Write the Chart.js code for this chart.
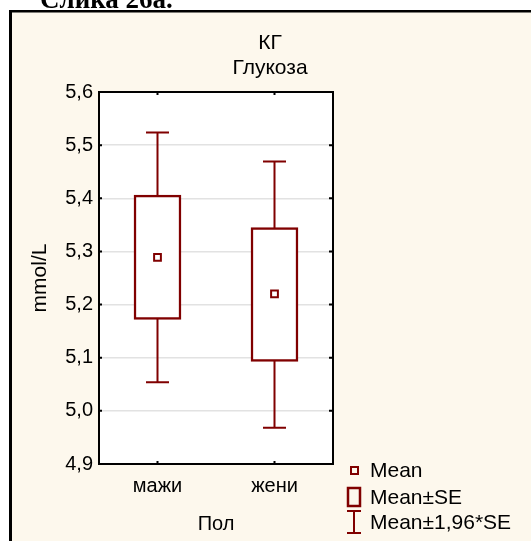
<!DOCTYPE html>
<html>
<head>
<meta charset="utf-8">
<script src="https://cdn.jsdelivr.net/npm/chart.js@4.4.1/dist/chart.umd.min.js"></script>
<style>
  html, body { margin: 0; padding: 0; background: #ffffff; }
  #wrap { width: 531px; height: 541px; position: relative; }
</style>
</head>
<body>
<div id="wrap"><canvas id="c" width="531" height="541"></canvas></div>
<script>
// ---- Data ----
const categories = ['мажи', 'жени'];
const meanValues = [5.289, 5.220];
const seLow = [5.172, 5.093];
const seHigh = [5.406, 5.345];
const ciLow = [5.054, 4.968];
const ciHigh = [5.524, 5.469];
const yTickMin = 4.9;
const yTickMax = 5.6;
const yTickStep = 0.1;
const chartTitle = ['КГ', 'Глукоза'];
const caption = 'Слика 26а.';
const xAxisTitle = 'Пол';
const yAxisTitle = 'mmol/L';
const legendLabels = ['Mean', 'Mean±SE', 'Mean±1,96*SE'];

const RED = '#800000';
const CREAM = '#fdf8ed';
const FONT = '"Liberation Sans", Arial, sans-serif';
const FS = 20;   // tick labels
const FT = 21;   // titles, axis titles, legend

const decorPlugin = {
  id: 'decor',
  beforeDraw(chart) {
    const ctx = chart.ctx;
    const W = chart.width, H = chart.height;
    const a = chart.chartArea;
    ctx.save();
    ctx.fillStyle = '#ffffff';
    ctx.fillRect(0, 0, W, H);
    ctx.fillStyle = CREAM;
    ctx.fillRect(9, 10, W - 9, H - 10);
    ctx.fillStyle = '#000000';
    ctx.fillRect(9, 10, 3, H - 10);
    ctx.fillRect(9, 10, W - 9, 2.5);
    ctx.fillStyle = '#ffffff';
    ctx.fillRect(a.left, a.top, a.right - a.left, a.bottom - a.top);
    ctx.restore();
  },
  beforeDatasetsDraw(chart) {
    // whiskers (mean ± 1.96*SE)
    const ctx = chart.ctx;
    const xs = chart.scales.x, ys = chart.scales.y;
    ctx.save();
    ctx.strokeStyle = RED;
    ctx.lineWidth = 2;
    for (let i = 0; i < categories.length; i++) {
      const x = xs.getPixelForValue(i);
      const yTop = ys.getPixelForValue(ciHigh[i]);
      const yBot = ys.getPixelForValue(ciLow[i]);
      ctx.beginPath();
      ctx.moveTo(x, yTop); ctx.lineTo(x, yBot);
      ctx.moveTo(x - 11.5, yTop); ctx.lineTo(x + 11.5, yTop);
      ctx.moveTo(x - 11.5, yBot); ctx.lineTo(x + 11.5, yBot);
      ctx.stroke();
    }
    ctx.restore();
  },
  afterDraw(chart) {
    const ctx = chart.ctx;
    const a = chart.chartArea;
    const xs = chart.scales.x, ys = chart.scales.y;
    ctx.save();
    // plot frame
    ctx.strokeStyle = '#000000';
    ctx.lineWidth = 2;
    ctx.strokeRect(a.left, a.top, a.right - a.left, a.bottom - a.top);
    // inward ticks
    ctx.lineWidth = 2;
    ctx.beginPath();
    ys.ticks.forEach(t => {
      const y = ys.getPixelForValue(t.value);
      ctx.moveTo(a.left, y); ctx.lineTo(a.left + 3, y);
      ctx.moveTo(a.right, y); ctx.lineTo(a.right - 4, y);
    });
    for (let i = 0; i < categories.length; i++) {
      const x = xs.getPixelForValue(i);
      ctx.moveTo(x, a.top); ctx.lineTo(x, a.top + 3);
      ctx.moveTo(x, a.bottom); ctx.lineTo(x, a.bottom - 3);
    }
    ctx.stroke();

    // titles
    ctx.fillStyle = '#000000';
    ctx.font = FT + 'px ' + FONT;
    ctx.textAlign = 'center';
    ctx.textBaseline = 'middle';
    ctx.fillText(chartTitle[0], 270, 43);
    ctx.fillText(chartTitle[1], 270, 68);

    // caption (cut at top)
    ctx.font = 'bold 27px "Liberation Serif", "Times New Roman", serif';
    ctx.textAlign = 'left';
    ctx.textBaseline = 'alphabetic';
    ctx.fillText(caption, 40, 8);

    // legend
    ctx.font = FT + 'px ' + FONT;
    ctx.textAlign = 'left';
    ctx.textBaseline = 'middle';
    ctx.fillStyle = '#000000';
    ctx.fillText(legendLabels[0], 370, 471);
    ctx.fillText(legendLabels[1], 370, 498);
    ctx.fillText(legendLabels[2], 370, 523);
    ctx.strokeStyle = RED;
    ctx.lineWidth = 2;
    ctx.strokeRect(351, 467, 7, 7);
    ctx.lineWidth = 2.5;
    ctx.strokeRect(348, 488, 12, 18);
    ctx.lineWidth = 2;
    ctx.beginPath();
    ctx.moveTo(354, 511); ctx.lineTo(354, 533);
    ctx.moveTo(347, 511); ctx.lineTo(361, 511);
    ctx.moveTo(347, 533); ctx.lineTo(361, 533);
    ctx.stroke();
    ctx.restore();
  }
};

new Chart(document.getElementById('c'), {
  type: 'bar',
  data: {
    labels: categories,
    datasets: [
      {
        type: 'line',
        label: legendLabels[0],
        data: meanValues,
        showLine: false,
        pointStyle: 'rect',
        pointRadius: 4.8,
        pointBorderWidth: 2,
        pointBorderColor: RED,
        pointBackgroundColor: '#ffffff',
        order: 0
      },
      {
        label: legendLabels[1],
        data: seLow.map((v, i) => [v, seHigh[i]]),
        backgroundColor: '#ffffff',
        borderColor: RED,
        borderWidth: 2.5,
        borderSkipped: false,
        barThickness: 47,
        order: 1
      }
    ]
  },
  plugins: [decorPlugin],
  options: {
    responsive: false,
    animation: false,
    devicePixelRatio: 1,
    layout: { padding: { left: 0, top: 92, right: 198, bottom: 0 } },
    plugins: { legend: { display: false }, tooltip: { enabled: false } },
    scales: {
      x: {
        type: 'category',
        offset: true,
        grid: { display: false, drawTicks: false },
        border: { display: false },
        ticks: { color: '#000', font: { family: FONT, size: FS }, padding: 10, maxRotation: 0 },
        title: { display: true, text: xAxisTitle, color: '#000', font: { family: FONT, size: FS }, padding: { top: 0, bottom: 5 } },
        afterFit(scale) { scale.height = 77; }
      },
      y: {
        type: 'linear',
        min: yTickMin,
        max: yTickMax,
        grid: { color: '#e2e2e2', lineWidth: 1.5, drawTicks: false },
        border: { display: false },
        ticks: {
          stepSize: yTickStep,
          color: '#000',
          padding: 6,
          font: { family: FONT, size: FS },
          callback: v => Number(v).toFixed(1).replace('.', ',')
        },
        title: { display: true, text: yAxisTitle, color: '#000', font: { family: FONT, size: FT }, padding: { top: 28, bottom: 0 } },
        afterFit(scale) { scale.width = 99; }
      }
    }
  }
});
</script>
</body>
</html>
